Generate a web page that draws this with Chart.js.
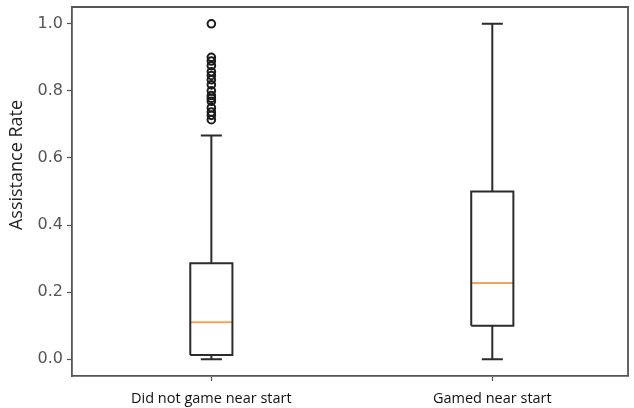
<!DOCTYPE html>
<html>
<head>
<meta charset="utf-8">
<script src="https://cdn.jsdelivr.net/npm/chart.js@4"></script>
<style>
  html, body { margin: 0; padding: 0; background: #fff; }
  #wrap { width: 634px; height: 408px; }
</style>
</head>
<body>
<div id="wrap"><canvas id="boxChart"></canvas></div>
<script>
// categories and box stats
const categories = ["Did not game near start", "Gamed near start"];
const positions = [1, 2];
const whiskerLow = [0.0, 0.0];
const q1 = [0.0125, 0.1];
const median = [0.11, 0.227];
const q3 = [0.286, 0.5];
const whiskerHigh = [0.667, 1.0];
// outliers only for the first group
const outliers1 = [1.0, 0.9, 0.889, 0.875, 0.857, 0.846, 0.833, 0.818, 0.8, 0.786,
                   0.778, 0.769, 0.75, 0.737, 0.727, 0.714];
const yTicks = [0.0, 0.2, 0.4, 0.6, 0.8, 1.0];

const boxHalf = 0.075;  // matplotlib default width 0.15
const capHalf = 0.0375;
const boxColor = '#2b2b2b';
const spineColor = '#555555';

// build line segments (null between pieces so they don't join)
let boxPts = [], whiskPts = [], medPts = [];
positions.forEach((x, i) => {
  boxPts.push({x: x - boxHalf, y: q1[i]}, {x: x + boxHalf, y: q1[i]},
              {x: x + boxHalf, y: q3[i]}, {x: x - boxHalf, y: q3[i]},
              {x: x - boxHalf, y: q1[i]}, {x: x, y: null});
  whiskPts.push({x: x, y: whiskerLow[i]}, {x: x, y: q1[i]}, {x: x, y: null},
                {x: x, y: q3[i]}, {x: x, y: whiskerHigh[i]}, {x: x, y: null},
                {x: x - capHalf, y: whiskerLow[i]}, {x: x + capHalf, y: whiskerLow[i]}, {x: x, y: null},
                {x: x - capHalf, y: whiskerHigh[i]}, {x: x + capHalf, y: whiskerHigh[i]}, {x: x, y: null});
  medPts.push({x: x - boxHalf, y: median[i]}, {x: x + boxHalf, y: median[i]}, {x: x, y: null});
});
const outlierPts = outliers1.map(v => ({x: positions[0], y: v}));

// frame (top/right spines) + y title
const framePlugin = {
  id: 'frame',
  afterDraw(chart) {
    const {ctx, chartArea: a} = chart;
    ctx.save();
    ctx.strokeStyle = spineColor;
    ctx.lineWidth = 1.8;
    ctx.beginPath();
    ctx.moveTo(a.left, a.top);
    ctx.lineTo(a.right, a.top);
    ctx.lineTo(a.right, a.bottom);
    ctx.stroke();
    ctx.translate(17, 165);
    ctx.rotate(-Math.PI / 2);
    ctx.fillStyle = '#222';
    ctx.font = '18px "Open Sans"';
    ctx.textAlign = 'center';
    ctx.textBaseline = 'middle';
    ctx.fillText('Assistance Rate', 0, 0);
    ctx.restore();
  }
};

const ctx = document.getElementById('boxChart').getContext('2d');
new Chart(ctx, {
  type: 'line',
  data: {
    datasets: [
      {
        label: 'box',
        data: boxPts,
        borderColor: boxColor,
        borderWidth: 2,
        pointRadius: 0,
        spanGaps: false,
        fill: false
      },
      {
        label: 'whiskers',
        data: whiskPts,
        borderColor: boxColor,
        borderWidth: 2,
        pointRadius: 0,
        spanGaps: false,
        fill: false
      },
      {
        label: 'median',
        data: medPts,
        borderColor: '#f5a25a',
        borderWidth: 2,
        pointRadius: 0,
        spanGaps: false,
        fill: false
      },
      {
        label: 'outliers',
        data: outlierPts,
        showLine: false,
        pointStyle: 'circle',
        pointRadius: 3.8,
        pointBorderWidth: 2,
        pointBorderColor: '#1a1a1a',
        pointBackgroundColor: 'rgba(0,0,0,0)'
      }
    ]
  },
  options: {
    responsive: true,
    maintainAspectRatio: false,
    animation: false,
    // right spine sits at the very edge of the picture
    layout: { padding: { top: 7, right: -4, left: 0, bottom: 0 } },
    plugins: {
      legend: { display: false },
      tooltip: { enabled: false }
    },
    scales: {
      x: {
        type: 'linear',
        min: 0.504,
        max: 2.483,
        afterBuildTicks: (scale) => { scale.ticks = positions.map(v => ({value: v})); },
        afterFit: (scale) => { scale.height = 32; scale.paddingLeft = 0; scale.paddingRight = 0; },
        ticks: {
          callback: (v) => categories[positions.indexOf(v)],
          color: '#111',
          font: { family: '"Open Sans"', size: 14.5 },
          padding: 9,
          maxRotation: 0,
          autoSkip: false
        },
        grid: { drawOnChartArea: false, drawTicks: true, tickLength: 5, tickColor: spineColor, tickWidth: 1.2 },
        border: { display: true, color: spineColor, width: 1.8 }
      },
      y: {
        type: 'linear',
        min: -0.05,
        max: 1.05,
        afterBuildTicks: (scale) => { scale.ticks = yTicks.map(v => ({value: v})); },
        afterFit: (scale) => { scale.width = 72; scale.paddingTop = 0; scale.paddingBottom = 0; },
        ticks: {
          callback: (v) => v.toFixed(1),
          color: '#555',
          font: { family: '"DejaVu Sans"', size: 16 },
          padding: 4
        },
        grid: { drawOnChartArea: false, drawTicks: true, tickLength: 5, tickColor: spineColor, tickWidth: 1.2 },
        border: { display: true, color: spineColor, width: 1.8 }
      }
    }
  },
  plugins: [framePlugin]
});
</script>
</body>
</html>
